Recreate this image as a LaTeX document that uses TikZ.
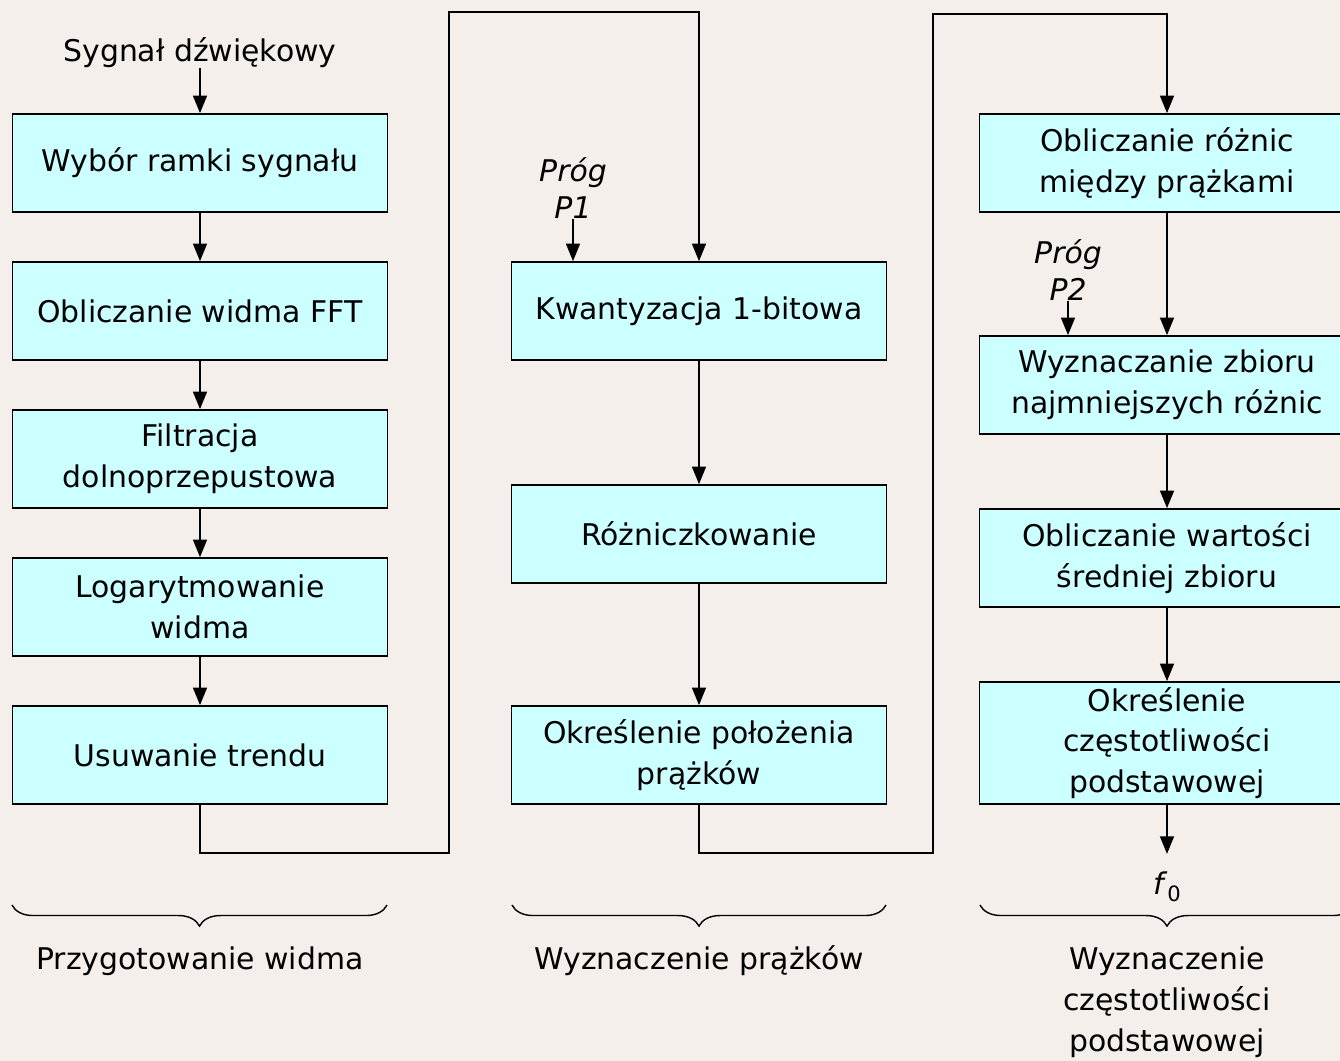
\documentclass[tikz,border=0pt]{standalone}
\usepackage{fontspec}
\setmainfont{DejaVu Sans}
\usetikzlibrary{arrows.meta,decorations.pathreplacing}

\definecolor{blokcyan}{RGB}{204,255,255}
\definecolor{tlo}{RGB}{244,239,235}

\tikzset{
    blok/.style={draw, line width=1pt, fill=blokcyan, minimum width=7.5cm,
        minimum height=1.96cm, inner sep=0pt, align=center,
        font=\fontsize{17}{23.2}\selectfont},
    tekst/.style={align=center, inner sep=0pt, font=\fontsize{17}{20.5}\selectfont},
    prog/.style={align=center, inner sep=0pt, font=\fontsize{17}{21}\selectfont\itshape},
    strzalka/.style={line width=0.8pt, -{Triangle[length=10pt,width=8pt]}},
    klamra/.style={line width=0.8pt, decorate, decoration={brace, mirror, amplitude=12pt}}
}

\begin{document}
\begin{tikzpicture}[x=0.02cm,y=-0.02cm]
    \useasboundingbox[fill=tlo] (0,0) rectangle (1340,1061);

    % przygotowanie widma
    \node[tekst, anchor=south] (sygnal) at (200,68) {Sygnał dźwiękowy};
    \node[blok] (ramka) at (200,163) {Wybór ramki sygnału};
    \node[blok] (fft) at (200,311) {Obliczanie widma FFT};
    \node[blok] (filtr) at (200,459) {Filtracja\\dolnoprzepustowa};
    \node[blok] (logar) at (200,607) {Logarytmowanie\\widma};
    \node[blok] (trend) at (200,755) {Usuwanie trendu};

    \draw[strzalka] (sygnal) -- (ramka);
    \draw[strzalka] (ramka) -- (fft);
    \draw[strzalka] (fft) -- (filtr);
    \draw[strzalka] (filtr) -- (logar);
    \draw[strzalka] (logar) -- (trend);

    % wyznaczenie prazkow
    \node[blok] (kwant) at (699,311) {Kwantyzacja 1-bitowa};
    \node[blok] (rozn) at (699,534) {Różniczkowanie};
    \node[blok] (polo) at (699,755) {Określenie położenia\\prążków};
    \node[prog, anchor=south] (p1) at (573,219) {Próg\\P1};

    \coordinate (zakret1) at (449,853);
    \coordinate (zakret2) at (449,12);
    \draw[strzalka] (trend.south) |- (zakret1) -- (zakret2) -| (kwant.north);
    \draw[strzalka] (p1.south) -- (p1.south |- kwant.north);
    \draw[strzalka] (kwant) -- (rozn);
    \draw[strzalka] (rozn) -- (polo);

    % wyznaczenie czestotliwosci podstawowej
    \node[blok] (roznice) at (1167,163) {Obliczanie różnic\\między prążkami};
    \node[blok] (zbior) at (1167,385) {Wyznaczanie zbioru\\najmniejszych różnic};
    \node[blok] (srednia) at (1167,558) {Obliczanie wartości\\średniej zbioru};
    \node[blok, minimum height=2.44cm] (podst) at (1167,743)
        {Określenie\\częstotliwości\\podstawowej};
    \node[prog, anchor=south] (p2) at (1068,301) {Próg\\P2};
    \node[tekst, anchor=north] (f0) at (1167,871)
        {\textit{f}\raisebox{-0.45ex}{\fontsize{12}{12}\selectfont 0}};

    \coordinate (zakret3) at (933,853);
    \coordinate (zakret4) at (933,14);
    \draw[strzalka] (polo.south) |- (zakret3) -- (zakret4) -| (roznice.north);
    \draw[strzalka] (roznice) -- (zbior);
    \draw[strzalka] (p2.south) -- (p2.south |- zbior.north);
    \draw[strzalka] (zbior) -- (srednia);
    \draw[strzalka] (srednia) -- (podst);
    \draw[strzalka] (podst.south) -- ++(0,49);

    % klamry
    \draw[klamra] (12,905) -- (387,905);
    \draw[klamra] (512,905) -- (886,905);
    \draw[klamra] (980,905) -- (1354,905);

    \node[tekst] (etykieta1) at (200,961) {Przygotowanie widma};
    \node[tekst] (etykieta2) at (699,961) {Wyznaczenie prążków};
    \node[tekst, font=\fontsize{17}{23.2}\selectfont] (etykieta3) at (1167,1002)
        {Wyznaczenie\\częstotliwości\\podstawowej};
\end{tikzpicture}
\end{document}
